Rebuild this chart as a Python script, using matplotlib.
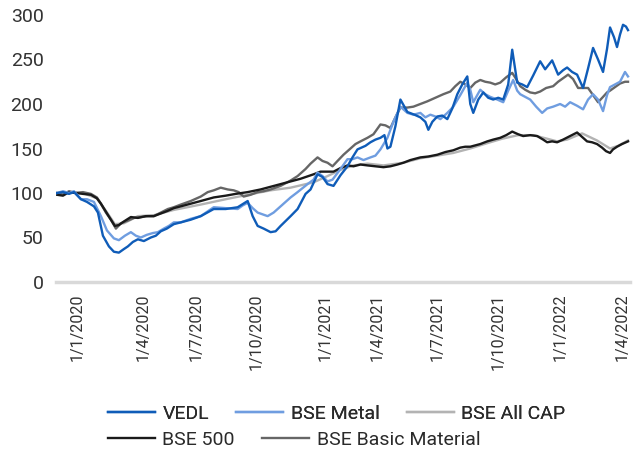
import matplotlib.pyplot as plt

# x = trading-day position on the chart, values are rebased to 100
vedl_x = [0, 6, 12, 17, 24, 30, 37, 41, 46, 52, 57, 62, 67, 71, 76, 81, 87, 94, 99, 104, 110, 117, 124,
          134, 144, 157, 169, 181, 191, 196, 201, 207, 214, 219, 224, 234, 241, 249, 254, 261, 266, 271,
          277, 284, 291, 296, 301, 309, 314, 319, 324, 328, 331, 334, 339, 344, 351, 358, 364, 369, 372,
          376, 381, 386, 391, 396, 401, 406, 411, 414, 417, 422, 427, 432, 437, 442, 447, 452, 456, 461,
          466, 471, 477, 484, 489, 496, 502, 507, 511, 516, 521, 527, 532, 537, 542, 547, 551, 554, 558,
          561, 564, 567, 570, 572]
vedl = [100, 101, 99, 101, 93, 90, 85, 78, 52, 40, 34, 33, 37, 40, 45, 48, 46, 50, 52, 57, 60, 65, 67,
        70, 74, 82, 82, 84, 91, 74, 63, 60, 56, 57, 63, 74, 82, 99, 104, 121, 118, 110,
        108, 120, 130, 140, 149, 153, 157, 160, 162, 165, 150, 152, 175, 205, 191, 188, 185, 180, 171,
        180, 186, 187, 183, 195, 211, 222, 231, 200, 190, 205, 213, 207, 205, 207, 205, 222, 261, 224,
        222, 219, 232, 248, 239, 249, 233, 238, 241, 236, 233, 218, 240, 263, 250, 236, 262, 286, 275,
        264, 278, 289, 287, 283]

metal_x = [0, 6, 12, 17, 24, 30, 37, 44, 50, 57, 62, 68, 74, 79, 84, 90, 96, 101, 107, 112, 117, 124, 134,
           144, 157, 169, 181, 186, 191, 196, 201, 206, 211, 217, 224, 234, 241, 251, 257, 261, 266, 271,
           276, 284, 291, 296, 301, 307, 314, 319, 324, 331, 337, 344, 351, 357, 364, 369, 374, 379, 384,
           391, 397, 404, 411, 414, 417, 424, 429, 434, 441, 447, 452, 457, 461, 464, 469, 474, 480, 486,
           491, 497, 504, 509, 514, 521, 527, 532, 537, 542, 547, 551, 554, 559, 564, 569, 572]
metal = [100, 102, 100, 102, 93, 93, 90, 74, 58, 49, 47, 52, 56, 52, 50, 53, 55, 56, 60, 63, 67, 67, 71,
         74, 84, 83, 82, 86, 89, 83, 78, 76, 74, 78, 85, 95, 101, 110, 115, 123, 119, 113,
         115, 127, 138, 138, 140, 137, 140, 142, 149, 162, 180, 197, 190, 188, 190, 185, 188, 186, 183,
         190, 197, 210, 224, 216, 202, 216, 211, 208, 205, 202, 215, 227, 215, 211, 208, 205, 197, 190,
         195, 197, 200, 197, 202, 198, 194, 205, 211, 205, 192, 210, 219, 222, 225, 236, 231]

allcap_x = [0, 12, 26, 40, 49, 58, 67, 81, 97, 117, 144, 169, 191, 214, 234, 257, 271, 284, 297, 311,
            327, 347, 364, 381, 397, 414, 431, 446, 462, 477, 491, 501, 511, 526, 541, 554, 562, 572]
allcap = [99, 101, 100, 94, 80, 65, 66, 74, 75, 81, 87, 93, 98, 103, 106, 112, 119, 126, 131, 133,
          131, 134, 139, 142, 145, 150, 156, 161, 165, 165, 161, 158, 160, 167, 159, 150, 153, 159]

bse500_x = [0, 6, 12, 19, 26, 34, 40, 44, 49, 54, 58, 62, 67, 74, 81, 89, 97, 104, 111, 117, 124, 134,
            144, 157, 169, 179, 191, 204, 214, 224, 234, 244, 257, 264, 271, 277, 284, 291, 297, 304,
            311, 319, 327, 334, 341, 347, 354, 364, 372, 381, 389, 397, 404, 409, 414, 424, 431, 437,
            444, 450, 456, 462, 467, 474, 481, 487, 491, 496, 501, 507, 514, 521, 526, 531, 536, 541,
            546, 550, 554, 557, 561, 566, 572]
bse500 = [98, 97, 101, 100, 99, 98, 94, 88, 79, 70, 63, 64, 68, 73, 72, 74, 74, 77, 80, 83, 85, 88,
          91, 95, 97, 99, 101, 104, 107, 110, 113, 116, 121, 124, 124, 124, 128, 131, 130, 132,
          131, 130, 129, 130, 132, 134, 137, 140, 141, 143, 146, 148, 151, 152, 152, 155, 158, 160,
          162, 165, 169, 166, 164, 165, 164, 160, 157, 158, 157, 160, 164, 168, 163, 158, 157, 155,
          151, 147, 145, 149, 152, 155, 158]

basic_x = [0, 6, 12, 19, 26, 34, 40, 44, 49, 54, 59, 64, 71, 77, 84, 91, 97, 104, 111, 117, 124, 134,
           144, 151, 157, 164, 171, 177, 182, 187, 194, 201, 207, 214, 224, 234, 241, 249, 254, 261,
           266, 271, 276, 281, 287, 294, 299, 304, 311, 317, 324, 329, 334, 339, 344, 351, 357, 364,
           371, 379, 387, 394, 399, 404, 409, 414, 419, 424, 429, 434, 439, 444, 450, 456, 460, 464,
           469, 474, 479, 484, 490, 497, 502, 507, 512, 517, 522, 527, 532, 537, 542, 547, 551, 554,
           559, 564, 569, 572]
basic = [100, 98, 102, 100, 101, 99, 95, 88, 78, 70, 60, 66, 69, 72, 73, 74, 74, 78, 82, 84, 87, 91,
         96, 101, 103, 106, 104, 103, 101, 96, 98, 101, 102, 104, 108, 114, 119, 127, 133, 140,
         136, 134, 130, 136, 143, 150, 155, 158, 162, 166, 177, 176, 173, 185, 196, 196, 197, 200,
         203, 207, 211, 214, 220, 225, 222, 218, 224, 227, 225, 224, 222, 224, 230, 235, 228, 220,
         216, 213, 212, 214, 218, 220, 225, 229, 233, 228, 218, 218, 218, 210, 202, 208, 213, 215,
         219, 223, 225, 225]

tick_pos = [20, 86, 139, 200, 269, 321, 381, 442, 504, 566]
tick_labels = ['1/1/2020', '1/4/2020', '1/7/2020', '1/10/2020', '1/1/2021',
               '1/4/2021', '1/7/2021', '1/10/2021', '1/1/2022', '1/4/2022']

plt.rcParams['font.family'] = ['Roboto', 'DejaVu Sans']

fig = plt.figure(figsize=(6.37, 4.54), dpi=100)
ax = fig.add_axes([56 / 637, 172 / 454, 574 / 637, 267 / 454])

lw = 1.7
l_allcap, = ax.plot(allcap_x, allcap, color='#b3b3b3', lw=lw, label='BSE All CAP')
l_basic, = ax.plot(basic_x, basic, color='#666666', lw=lw, label='BSE Basic Material')
l_500, = ax.plot(bse500_x, bse500, color='#1a1a1a', lw=lw, label='BSE 500')
l_metal, = ax.plot(metal_x, metal, color='#6f9de0', lw=lw, label='BSE Metal')
l_vedl, = ax.plot(vedl_x, vedl, color='#0f5cb8', lw=lw, label='VEDL')

ax.set_xlim(-1, 574)
ax.set_ylim(0, 300)
ax.set_yticks([0, 50, 100, 150, 200, 250, 300])
ax.set_xticks(tick_pos)
ax.set_xticklabels(tick_labels, rotation=90)

for s in ['top', 'right', 'left']:
    ax.spines[s].set_visible(False)
ax.spines['bottom'].set_color('#d9d9d9')
ax.spines['bottom'].set_linewidth(2.5)
ax.tick_params(axis='both', length=0, colors='#333333')
ax.tick_params(axis='y', labelsize=14, pad=9)
ax.tick_params(axis='x', labelsize=11.5, pad=8)

# Legend: two flowing rows, both starting at the same left edge
leg_kw = dict(frameon=False, fontsize=14, handlelength=2.4, handletextpad=0.4,
              columnspacing=1.4, borderpad=0, borderaxespad=0, loc='center left',
              labelcolor='#2a2a2a')
leg1 = fig.legend(handles=[l_vedl, l_metal, l_allcap], ncol=3,
                  bbox_to_anchor=(108 / 637, 1 - 414 / 454), **leg_kw)
leg2 = fig.legend(handles=[l_500, l_basic], ncol=2,
                  bbox_to_anchor=(108 / 637, 1 - 440 / 454), **leg_kw)
fig.add_artist(leg1)

fig.savefig('out.png', dpi=100)
